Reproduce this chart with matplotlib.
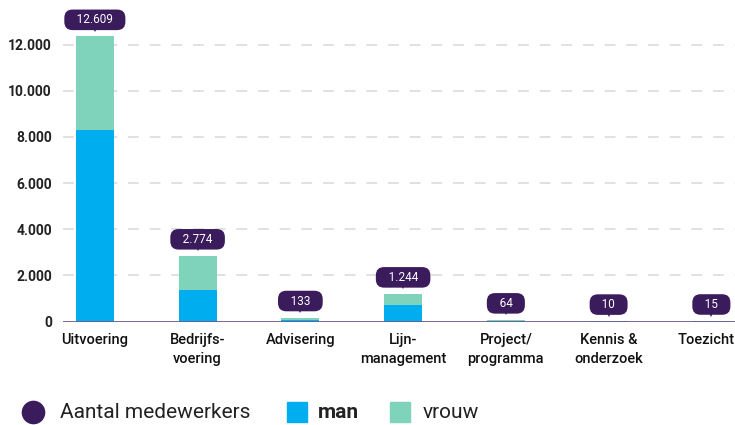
import matplotlib
matplotlib.use("Agg")
import matplotlib.pyplot as plt
from matplotlib.patches import Rectangle
from matplotlib.transforms import offset_copy, ScaledTranslation

categories = ["Uitvoering", "Bedrijfs-\nvoering", "Advisering", "Lijn-\nmanagement",
              "Project/\nprogramma", "Kennis &\nonderzoek", "Toezicht"]
man = [8280, 1370, 55, 720, 38, 6, 9]
vrouw = [4070, 1470, 110, 470, 26, 4, 6]
totals = ["12.609", "2.774", "133", "1.244", "64", "10", "15"]
yticks = [0, 2000, 4000, 6000, 8000, 10000, 12000]
yticklabels = ["0", "2.000", "4.000", "6.000", "8.000", "10.000", "12.000"]

BLUE = "#00aeef"
GREEN = "#7fd3ba"
PURPLE = "#3a1b5c"
BASE = "#6f5a8c"
FONT = ["Roboto", "DejaVu Sans"]
plt.rcParams["font.family"] = FONT

fig = plt.figure(figsize=(7.35, 4.25), dpi=100)
ax = fig.add_axes([63 / 735, (425 - 321.5) / 425, 1 - 63 / 735, 300 / 425])

x = list(range(len(categories)))
w = 0.37
ax.bar(x, man, width=w, color=BLUE, zorder=3)
ax.bar(x, vrouw, bottom=man, width=w, color=GREEN, zorder=3)

ax.set_xlim(-0.31, 6.23)
ax.set_ylim(0, 13000)
ax.set_yticks(yticks)
ax.set_yticklabels(yticklabels, fontweight="bold", fontsize=10, color="#222222")
ax.set_xticks(x)
ax.set_xticklabels(categories, fontsize=10.5, fontweight=500, color="#111111",
                   linespacing=1.45, va="top")
ax.tick_params(axis="both", length=0)
ax.tick_params(axis="y", pad=8)
ax.tick_params(axis="x", pad=8)
last = ax.get_xticklabels()[-1]
last.set_transform(last.get_transform() + ScaledTranslation(-4 / 72, 0, fig.dpi_scale_trans))
for s in ax.spines.values():
    s.set_visible(False)
for yv in yticks[1:]:
    ax.axhline(yv, color="#dedede", lw=1.3, dashes=(6, 6), zorder=1)
ax.axhline(0, color=BASE, lw=2, zorder=4)

tri_tr = offset_copy(ax.transData, fig=fig, x=0, y=5.5, units="points")
for xi, m, v, t in zip(x, man, vrouw, totals):
    top = m + v
    ax.plot([xi], [top], marker="v", markersize=5, color=PURPLE,
            transform=tri_tr, zorder=6, clip_on=False, markeredgewidth=0)
    ax.annotate("   " + t + "   ", xy=(xi, top), xytext=(0, 12), textcoords="offset points",
                ha="center", va="center", fontsize=8.5, color="white", zorder=7,
                annotation_clip=False,
                bbox=dict(boxstyle="round,pad=0.32,rounding_size=0.7",
                          fc=PURPLE, ec="none"))

# legend drawn manually
ly = 1 - 412 / 425
fig.add_artist(plt.Line2D([33 / 735], [ly], marker="o", markersize=16,
                          color=PURPLE, transform=fig.transFigure))
fig.text(60 / 735, ly, "Aantal medewerkers", fontsize=15, color="#222222",
         va="center", ha="left")
fig.add_artist(Rectangle((287 / 735, ly - 10 / 425), 20 / 735, 20 / 425,
                         color=BLUE, transform=fig.transFigure))
fig.text(318 / 735, ly, "man", fontsize=15, fontweight="bold", color="#222222",
         va="center", ha="left")
fig.add_artist(Rectangle((390 / 735, ly - 10 / 425), 20 / 735, 20 / 425,
                         color=GREEN, transform=fig.transFigure))
fig.text(423 / 735, ly, "vrouw", fontsize=15, color="#222222",
         va="center", ha="left")

fig.savefig("out.png", dpi=100)
